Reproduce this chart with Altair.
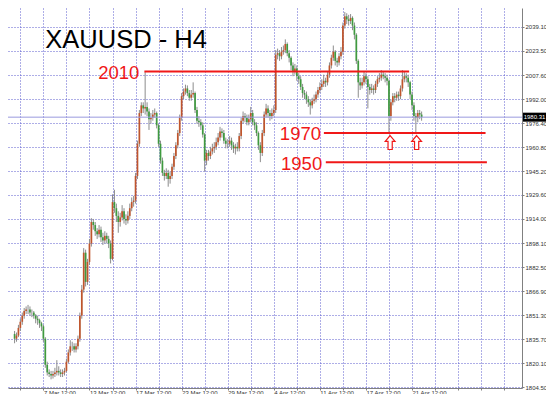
import altair as alt
import pandas as pd

# ---- candle data (H4 bars, index 5..217) ----
bar_index = list(range(5, 218))
opens = [
    1839, 1836, 1838, 1843, 1847, 1851, 1854, 1855, 1855, 1853,
    1853, 1851, 1849, 1848, 1846, 1844, 1836, 1819, 1814, 1813,
    1812, 1813, 1814, 1815, 1814, 1813, 1814, 1815, 1821, 1827,
    1831, 1831, 1829, 1831, 1836, 1851, 1868, 1892, 1873, 1886,
    1898, 1912, 1910, 1906, 1904, 1907, 1902, 1900, 1903, 1901,
    1898, 1888, 1925, 1921, 1916, 1912, 1915, 1919, 1914, 1913,
    1916, 1921, 1925, 1926, 1942, 1963, 1983, 1988, 1986, 1987,
    1984, 1979, 1980, 1982, 1983, 1975, 1963, 1952, 1944, 1942,
    1944, 1940, 1942, 1948, 1955, 1962, 1970, 1980, 1994, 1997,
    1999, 1996, 1993, 1995, 1996, 1985, 1978, 1977, 1975, 1969,
    1952, 1957, 1955, 1958, 1960, 1961, 1964, 1967, 1971, 1970,
    1965, 1963, 1963, 1965, 1962, 1960, 1961, 1960, 1968, 1978,
    1981, 1980, 1977, 1979, 1983, 1977, 1975, 1970, 1962, 1957,
    1970, 1982, 1986, 1983, 1981, 1983, 1985, 2021, 2022, 2020,
    2023, 2024, 2028, 2022, 2019, 2014, 2010, 2012, 2007, 2005,
    2000, 1996, 1995, 1992, 1990, 1988, 1991, 1992, 1995, 1998,
    2000, 2002, 2004, 2003, 2008, 2014, 2019, 2023, 2017, 2016,
    2020, 2023, 2040, 2046, 2044, 2043, 2045, 2040, 2034, 2017,
    2003, 2001, 2003, 2007, 2005, 2000, 1998, 1999, 1998, 2002,
    2005, 2006, 2008, 2007, 2006, 2004, 1981, 1990, 1994, 1993,
    1995, 1994, 1999, 2005, 2007, 2006, 2003, 1995, 1988, 1981,
    1980, 1983, 1982,
]
closes = [
    1836, 1838, 1843, 1847, 1851, 1854, 1855, 1855, 1853, 1853,
    1851, 1849, 1848, 1846, 1844, 1836, 1819, 1814, 1813, 1812,
    1813, 1814, 1815, 1814, 1813, 1814, 1815, 1821, 1827, 1831,
    1831, 1829, 1831, 1836, 1851, 1868, 1892, 1873, 1886, 1898,
    1912, 1910, 1906, 1904, 1907, 1902, 1900, 1903, 1901, 1898,
    1888, 1925, 1921, 1916, 1912, 1915, 1919, 1914, 1913, 1916,
    1921, 1925, 1926, 1942, 1963, 1983, 1988, 1986, 1987, 1984,
    1979, 1980, 1982, 1983, 1975, 1963, 1952, 1944, 1942, 1944,
    1940, 1942, 1948, 1955, 1962, 1970, 1980, 1994, 1997, 1999,
    1996, 1993, 1995, 1996, 1985, 1978, 1977, 1975, 1969, 1952,
    1957, 1955, 1958, 1960, 1961, 1964, 1967, 1971, 1970, 1965,
    1963, 1963, 1965, 1962, 1960, 1961, 1960, 1968, 1978, 1981,
    1980, 1977, 1979, 1983, 1977, 1975, 1970, 1962, 1957, 1970,
    1982, 1986, 1983, 1981, 1983, 1985, 2021, 2022, 2020, 2023,
    2024, 2028, 2022, 2019, 2014, 2010, 2012, 2007, 2005, 2000,
    1996, 1995, 1992, 1990, 1988, 1991, 1992, 1995, 1998, 2000,
    2002, 2004, 2003, 2008, 2014, 2019, 2023, 2017, 2016, 2020,
    2023, 2040, 2046, 2044, 2043, 2045, 2040, 2034, 2017, 2003,
    2001, 2003, 2007, 2005, 2000, 1998, 1999, 1998, 2002, 2005,
    2006, 2008, 2007, 2006, 2004, 1981, 1990, 1994, 1993, 1995,
    1994, 1999, 2005, 2007, 2006, 2003, 1995, 1988, 1981, 1980,
    1983, 1982, 1980.31,
]
highs = [
    1841, 1840, 1845, 1849, 1853, 1856, 1857, 1858, 1857, 1855,
    1854, 1852, 1851, 1849, 1847, 1845, 1837, 1821, 1816, 1815,
    1815, 1817, 1822, 1818, 1816, 1816, 1817, 1823, 1829, 1835,
    1834, 1833, 1833, 1838, 1853, 1871, 1895, 1894, 1888, 1901,
    1914.5, 1914, 1912, 1908, 1910, 1909, 1905, 1906, 1905, 1903,
    1900, 1930, 1933, 1924, 1919, 1918, 1923, 1921, 1917, 1919,
    1924, 1928, 1929, 1944, 1965, 1985, 1990, 1990, 2009.7, 1990,
    1986, 1983, 1985, 1986, 1984, 1976, 1965, 1954, 1946, 1947,
    1946, 1945, 1950, 1957, 1964, 1972, 1982, 1996, 1999, 2001.5,
    2001, 1998, 1998, 2003, 1997, 1987, 1981, 1979, 1977, 1970,
    1959, 1959, 1961, 1963, 1964, 1967, 1970, 1974, 1973, 1972,
    1967, 1966, 1968, 1967, 1964, 1963, 1964, 1970, 1980, 1984,
    1983, 1982, 1982, 1987, 1985, 1979, 1977, 1971, 1964, 1972,
    1984, 1989, 1988, 1985, 1986, 1988, 2024, 2025, 2024, 2026,
    2027, 2031, 2029, 2024, 2020, 2016, 2015, 2014, 2009, 2007,
    2002, 1998, 1997, 1994, 1992, 1993, 1995, 1997, 2000, 2003,
    2005, 2008, 2006, 2010, 2016, 2021, 2027, 2024, 2019, 2022,
    2026, 2042, 2048.8, 2048, 2047, 2047.5, 2046, 2042, 2035, 2018,
    2006, 2006, 2010, 2009, 2007, 2002, 2002, 2001, 2004, 2007,
    2009, 2011, 2010, 2009, 2008, 2005, 1992, 1996, 1996, 1997,
    1997, 2001, 2011, 2010, 2009, 2008, 2004, 1997, 1990, 1983,
    1985, 1985, 1984,
]
lows = [
    1833, 1834, 1837, 1841, 1845, 1849, 1852, 1852, 1851, 1850,
    1849, 1846, 1845, 1843, 1841, 1834, 1817, 1812, 1811, 1809.5,
    1810, 1811, 1812, 1812, 1811, 1811, 1812, 1814, 1820, 1825,
    1828, 1827, 1827, 1829, 1834, 1849, 1866, 1870, 1871, 1884,
    1896, 1907, 1903, 1901, 1902, 1899, 1897, 1898, 1898, 1895,
    1885, 1887, 1918, 1912, 1905, 1909, 1913, 1911, 1910, 1911,
    1914, 1919, 1922, 1924, 1940, 1961, 1981, 1983, 1982, 1981,
    1972, 1976, 1978, 1980, 1973, 1961, 1950, 1942, 1939, 1940,
    1935, 1937, 1940, 1946, 1953, 1960, 1968, 1978, 1992, 1995,
    1994, 1991, 1991, 1993, 1983, 1976, 1974, 1972, 1967, 1945,
    1949, 1952, 1953, 1956, 1957, 1959, 1962, 1965, 1967, 1963,
    1960, 1960, 1961, 1959, 1957, 1956, 1958, 1958, 1966, 1976,
    1977, 1975, 1975, 1977, 1975, 1972, 1968, 1959, 1951, 1955,
    1968, 1980, 1980, 1978, 1979, 1981, 1983, 2018, 2017, 2018,
    2021, 2022, 2020, 2016, 2011, 2007, 2008, 2004, 2002, 1998,
    1993, 1992, 1989, 1987, 1982, 1986, 1989, 1990, 1993, 1996,
    1998, 2000, 2000, 2001, 2006, 2012, 2017, 2014, 2013, 2014,
    2018, 2021, 2038, 2041, 2040, 2041, 2037, 2031, 2015, 1993,
    1998, 1999, 2001, 2002, 1986, 1995, 1996, 1995, 1996, 2000,
    2003, 2004, 2005, 2003, 2001, 1970, 1978, 1988, 1990, 1991,
    1991, 1992, 1997, 2003, 2003, 2000, 1992, 1985, 1978, 1970.5,
    1977, 1979, 1978,
]

# ---- axes ----
grid_bars = [8, 20, 32, 44, 56, 68, 80, 92, 104, 116, 128, 140, 152, 164,
             176, 188, 200, 212, 224, 236, 248, 260]
label_bars = [20, 44, 68, 92, 116, 140, 164, 188, 212]
label_texts = ["7 Mar 12:00", "13 Mar 12:00", "17 Mar 12:00", "23 Mar 12:00",
               "29 Mar 12:00", "4 Apr 12:00", "11 Apr 12:00", "17 Apr 12:00",
               "21 Apr 12:00"]
price_ticks = [1804.5, 1820.1, 1835.7, 1851.3, 1866.9, 1882.5, 1898.1, 1914.0,
               1929.6, 1945.2, 1960.8, 1976.4, 1992.0, 2007.6, 2023.5, 2039.1]
current_price = [1980.31]

# ---- annotations ----
level_prices = [2010.0, 1970.0, 1951.0]
level_start = [72.6, 166.1, 167.1]
level_end = [210.5, 250.3, 251.0]
level_labels = ["2010", "1970", "1950"]
level_label_bar = [70.0, 164.6, 165.2]
level_label_price = [2005.2, 1965.4, 1945.9]
arrow_bars = [200.6, 214.4]
arrow_prices = [1963.8, 1963.8]
title_text = ["XAUUSD - H4"]
title_bar = [21.0]
title_price = [2025.4]

RED = "#f01818"
BULL = "#c0552c"
BEAR = "#3f9a3f"
GRID = "#5d5dcf"

candles = pd.DataFrame({"bar": bar_index, "open": opens, "high": highs,
                        "low": lows, "close": closes})
candles["dir"] = ["up" if c >= o else "down" for o, c in zip(opens, closes)]

levels = pd.DataFrame({"price": level_prices, "start": level_start, "end": level_end})
level_text = pd.DataFrame({"label": level_labels, "bar": level_label_bar,
                           "price": level_label_price})
arrows = pd.DataFrame({"bar": arrow_bars, "price": arrow_prices})
title_df = pd.DataFrame({"t": title_text, "bar": title_bar, "price": title_price})
cur_df = pd.DataFrame({"p": current_price,
                       "txt": [f"{v:.2f}" for v in current_price]})

x_scale = alt.Scale(domain=[4.17, 266.68], nice=False, zero=False)
y_scale = alt.Scale(domain=[1803.85, 2051.44], nice=False, zero=False)

label_expr = " : ".join(f"datum.value == {b} ? '{t}'"
                        for b, t in zip(label_bars, label_texts)) + " : ''"

x_axis = alt.Axis(values=grid_bars, labelExpr=label_expr, title=None,
                  grid=True, gridColor=GRID, gridDash=[1, 2], gridWidth=1,
                  labelAlign="left", labelBaseline="alphabetic", labelFontSize=6,
                  labelFont="Liberation Sans", labelColor="#333333",
                  labelPadding=4, labelOverlap=False, labelFlush=False,
                  labelBound=False, tickSize=2, tickColor="#808080",
                  domainColor="#808080", domainWidth=1)
y_axis = alt.Axis(values=price_ticks, format=".2f", orient="right", title=None,
                  grid=True, gridColor=GRID, gridDash=[1, 2], gridWidth=1,
                  labelFontSize=6, labelFont="Liberation Sans",
                  labelColor="#333333", labelPadding=1, labelOverlap=False,
                  labelFlush=False, tickSize=2, tickColor="#808080",
                  domainColor="#808080", domainWidth=1)


def X(field):
    return alt.X(field, scale=x_scale, axis=x_axis)


def Y(field):
    return alt.Y(field, scale=y_scale, axis=y_axis)


wicks = alt.Chart(candles).mark_rule(color="#8c8c8c", strokeWidth=1).encode(
    x=X("bar:Q"), y=Y("low:Q"), y2="high:Q",
)
bodies = alt.Chart(candles).mark_bar(size=1.7).encode(
    x=X("bar:Q"), y=Y("open:Q"), y2="close:Q",
    color=alt.Color("dir:N", scale=alt.Scale(domain=["up", "down"], range=[BULL, BEAR]),
                    legend=None),
)
cur_line = alt.Chart(cur_df).mark_rule(color="#9a9ade", strokeWidth=1).encode(
    y=Y("p:Q"),
)
level_lines = alt.Chart(levels).mark_rule(color=RED, strokeWidth=2).encode(
    x=X("start:Q"), x2="end:Q", y=Y("price:Q"),
)
level_labels_layer = alt.Chart(level_text).mark_text(
    align="right", baseline="alphabetic", fontSize=18.5,
    font="Liberation Sans", color=RED).encode(
    x=X("bar:Q"), y=Y("price:Q"), text="label:N",
)
title_layer = alt.Chart(title_df).mark_text(
    align="left", baseline="alphabetic", fontSize=25.5,
    font="Liberation Sans", color="black").encode(
    x=X("bar:Q"), y=Y("price:Q"), text="t:N",
)
arrow_path = "M0,-1L0.7,-0.15L0.3,-0.15L0.3,1L-0.3,1L-0.3,-0.15L-0.7,-0.15Z"
arrow_layer = alt.Chart(arrows).mark_point(
    shape=arrow_path, size=196, filled=True, fill="white", stroke=RED,
    strokeWidth=1.2, opacity=1).encode(
    x=X("bar:Q"), y=Y("price:Q"),
)
tag_box = alt.Chart(cur_df).mark_rect(color="black", yOffset=-4.5, y2Offset=4.5).encode(
    x=alt.value(515), x2=alt.value(538), y=Y("p:Q"), y2="p:Q",
)
tag_text = alt.Chart(cur_df).mark_text(
    color="white", fontSize=6, font="Liberation Sans",
    align="center", baseline="middle").encode(
    x=alt.value(526.5), y=Y("p:Q"), text="txt:N",
)

chart = alt.layer(
    wicks, bodies, cur_line, level_lines, level_labels_layer, title_layer,
    arrow_layer, tag_box, tag_text,
).properties(
    width=514, height=380,
    autosize=alt.AutoSizeParams(type="none"),
    padding={"left": 0, "top": 0, "right": 24, "bottom": 6},
    background="white",
).configure_view(strokeWidth=0)

chart.save("out.html", embed_options={"renderer": "svg", "actions": False})
